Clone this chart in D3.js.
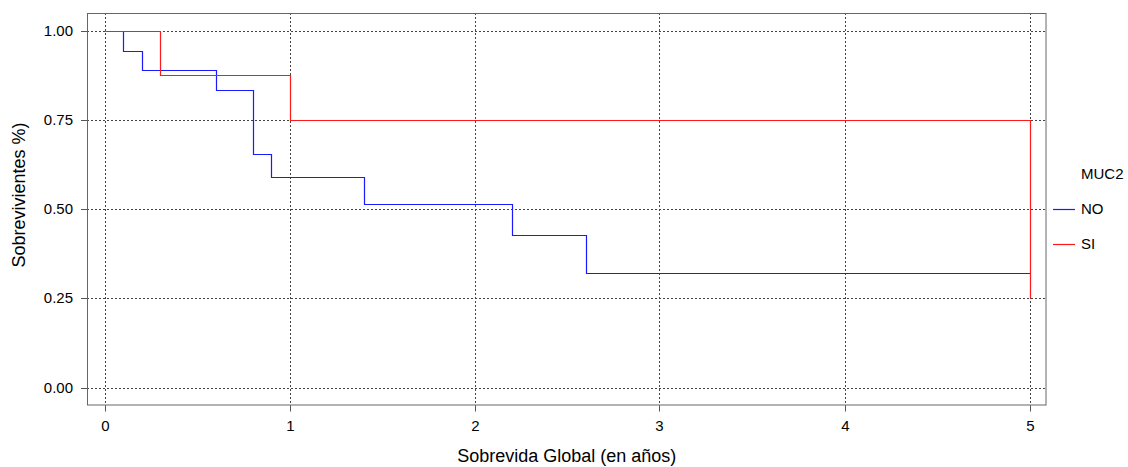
<!DOCTYPE html>
<html>
<head>
<meta charset="utf-8">
<script src="https://cdn.jsdelivr.net/npm/d3@7"></script>
<style>
  html, body { margin: 0; padding: 0; background: #fff; }
  text { font-family: "Liberation Sans", Arial, sans-serif; fill: #000; }
</style>
</head>
<body>
<svg id="chart" width="1128" height="467"></svg>
<script>
// ---- data ----
const groups = ["NO", "SI"];
const groupColors = ["#1a1aff", "#ff1a1a"];
const noTimes = [0, 0.1, 0.2, 0.6, 0.8, 0.9, 1.4, 2.2, 2.6, 5];
const noSurv  = [1, 0.944, 0.889, 0.833, 0.655, 0.589, 0.515, 0.429, 0.322, 0.322];
const siTimes = [0, 0.3, 1.0, 5];
const siSurv  = [1, 0.875, 0.75, 0.25];
const xTicks = [0, 1, 2, 3, 4, 5];
const yTicks = [0, 0.25, 0.5, 0.75, 1.0];
const yTickLabels = ["0.00", "0.25", "0.50", "0.75", "1.00"];
const xTitle = "Sobrevida Global (en años)";
const yTitle = "Sobrevivientes %)";
const legendTitle = "MUC2";

// ---- layout ----
const svg = d3.select("#chart");
const panel = { left: 87, right: 1046.5, top: 13, bottom: 405.5 };

const x = d3.scaleLinear().domain([0, 5]).range([104.5, 1029.5]);
const y = d3.scaleLinear().domain([0, 1]).range([387.7, 30.7]);

const gridColor = "#444";
const g = svg.append("g");

// grid lines
g.selectAll(".vgrid").data(xTicks).enter().append("line")
  .attr("x1", d => Math.round(x(d)) + 0.5).attr("x2", d => Math.round(x(d)) + 0.5)
  .attr("y1", panel.top).attr("y2", panel.bottom)
  .attr("stroke", gridColor).attr("stroke-width", 1).attr("stroke-dasharray", "2,2");
g.selectAll(".hgrid").data(yTicks).enter().append("line")
  .attr("y1", d => Math.round(y(d)) + 0.5).attr("y2", d => Math.round(y(d)) + 0.5)
  .attr("x1", panel.left).attr("x2", panel.right)
  .attr("stroke", gridColor).attr("stroke-width", 1).attr("stroke-dasharray", "2,2");

// survival curves
const line = d3.line()
  .x(d => Math.round(x(d[0])) + 0.5)
  .y(d => Math.round(y(d[1])) + 0.5)
  .curve(d3.curveStepAfter);

const series = [
  noTimes.map((t, i) => [t, noSurv[i]]),
  siTimes.map((t, i) => [t, siSurv[i]])
];
series.forEach((s, i) => {
  g.append("path").datum(s)
    .attr("d", line)
    .attr("fill", "none")
    .attr("stroke", groupColors[i])
    .attr("stroke-width", 1.2);
});

// panel border
g.append("rect")
  .attr("x", panel.left + 0.5).attr("y", panel.top + 0.5)
  .attr("width", panel.right - panel.left - 1).attr("height", panel.bottom - panel.top - 1)
  .attr("fill", "none").attr("stroke", "#666").attr("stroke-width", 1);

// x axis
const xAxis = d3.axisBottom(x).tickValues(xTicks).tickSize(6).tickPadding(9)
  .tickFormat(d3.format("d"));
const xg = svg.append("g").attr("transform", `translate(0,${panel.bottom})`).call(xAxis);
xg.select(".domain").remove();
xg.selectAll(".tick").attr("transform", d => `translate(${Math.round(x(d)) + 0.5},0)`);
xg.selectAll(".tick line").attr("stroke", "#555");
xg.selectAll(".tick text").attr("font-size", 15).attr("font-family", "Liberation Sans, Arial, sans-serif").attr("fill", "#000");

// y axis
const yAxis = d3.axisLeft(y).tickValues(yTicks).tickSize(6).tickPadding(8)
  .tickFormat((d, i) => yTickLabels[i]);
const yg = svg.append("g").attr("transform", `translate(${panel.left},0)`).call(yAxis);
yg.select(".domain").remove();
yg.selectAll(".tick").attr("transform", d => `translate(0,${Math.round(y(d)) + 0.5})`);
yg.selectAll(".tick line").attr("stroke", "#555");
yg.selectAll(".tick text").attr("font-size", 15).attr("font-family", "Liberation Sans, Arial, sans-serif").attr("fill", "#000");

// axis titles
svg.append("text")
  .attr("x", (panel.left + panel.right) / 2).attr("y", 462)
  .attr("text-anchor", "middle").attr("font-size", 18)
  .text(xTitle);
svg.append("text")
  .attr("transform", `translate(25,195) rotate(-90)`)
  .attr("text-anchor", "middle").attr("font-size", 18)
  .text(yTitle);

// legend
const lg = svg.append("g");
lg.append("text").attr("x", 1081).attr("y", 178.5).attr("font-size", 15).text(legendTitle);
groups.forEach((name, i) => {
  const yy = 209 + i * 35;
  lg.append("line").attr("x1", 1053).attr("x2", 1075)
    .attr("y1", yy + 0.5).attr("y2", yy + 0.5)
    .attr("stroke", groupColors[i]).attr("stroke-width", 1.2);
  lg.append("text").attr("x", 1081).attr("y", yy + 4.5 + 0.5)
    .attr("font-size", 15).text(name);
});
</script>
</body>
</html>
